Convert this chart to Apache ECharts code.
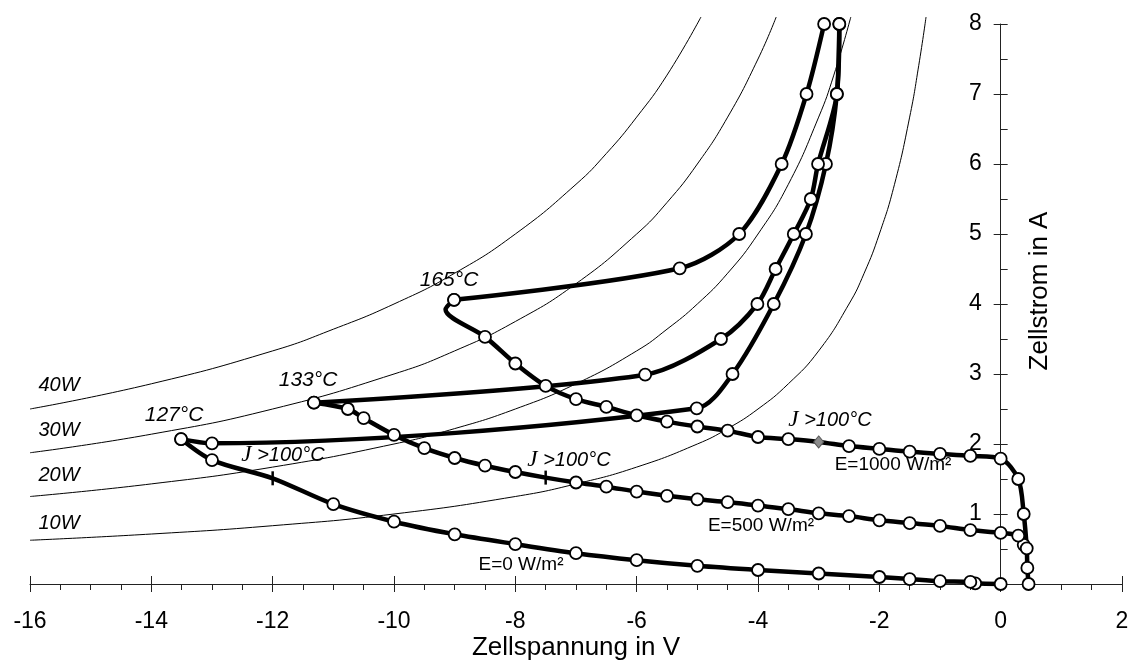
<!DOCTYPE html>
<html>
<head>
<meta charset="utf-8">
<script src="https://cdn.jsdelivr.net/npm/echarts@6/dist/echarts.min.js"></script>
<style>
html, body { margin: 0; padding: 0; background: #fff; }
#chart { width: 1132px; height: 661px; }
</style>
</head>
<body>
<div id="chart"></div>
<script>
// Kennlinien (Zellspannung V, Zellstrom A)
var e0Lower = [[0,0],[-0.42,0.01],[-0.5,0.03],[-1,0.04],[-1.5,0.07],[-2,0.1],[-3,0.15],[-4,0.2],[-5,0.26],[-6,0.34],[-7,0.44],[-8,0.57],[-9,0.71],[-10,0.89],[-11,1.14],[-12,1.51],[-13,1.77],[-13.51,2.07]];
var e0Upper = [[-13.51,2.07],[-13,2.01],[-5.01,2.51],[-4.42,3.0],[-3.74,4.0],[-3.21,5.0],[-2.88,6.0],[-2.7,7.0],[-2.66,8.0]];

var e500Lower = [[0.38,0.56],[0.29,0.69],[0,0.73],[-0.5,0.77],[-1,0.83],[-1.5,0.87],[-2,0.91],[-2.5,0.97],[-3,1.01],[-3.5,1.07],[-4,1.12],[-4.5,1.17],[-5,1.21],[-5.5,1.26],[-6,1.32],[-6.5,1.39],[-7,1.45],[-7.5,1.52],[-8,1.6],[-8.5,1.69],[-9,1.8],[-9.5,1.94],[-10,2.13],[-10.5,2.37],[-10.76,2.5],[-11.32,2.59]];
var e500Upper = [[-11.32,2.59],[-5.86,2.99],[-4.61,3.5],[-4.01,4.0],[-3.71,4.5],[-3.41,5.0],[-3.13,5.5],[-3.01,6.0],[-2.7,7.0],[-2.66,8.0]];

var e1000Lower = [[0.46,0],[0.44,0.23],[0.43,0.51],[0.38,1.0],[0.29,1.5],[0,1.79],[-0.5,1.83],[-1,1.86],[-1.5,1.89],[-2,1.93],[-2.5,1.97],[-3,2.03],[-3.5,2.07],[-4,2.1],[-4.5,2.19],[-5,2.25],[-5.5,2.32],[-6,2.41],[-6.5,2.53],[-7,2.64],[-7.5,2.83],[-8,3.15],[-8.5,3.53],[-9.15,3.92],[-9.01,4.06]];
var e1000Upper = [[-9.01,4.06],[-5.29,4.51],[-4.31,5.0],[-3.61,6.0],[-3.2,7.0],[-2.91,8.0]];

// J > 100°C Punkte und Knick ohne Marker
var jTickE0 = [-12,1.51];
var jTickE500 = [-7.5,1.52];
var jDiamondE1000 = [-3,2.03];
var bendE1000 = [-9.15,3.92];

// Verlustleistung 10/20/30/40 W
var p10 = [[-16,0.625],[-14,0.714],[-12,0.833],[-10,1.0],[-8,1.25],[-7,1.43],[-6,1.67],[-5,2.0],[-4.5,2.22],[-4,2.5],[-3.5,2.86],[-3,3.33],[-2.5,4.0],[-2.25,4.44],[-2,5.0],[-1.75,5.71],[-1.5,6.67],[-1.35,7.41],[-1.23,8.1]];
var p20 = [[-16,1.25],[-14,1.43],[-12,1.67],[-10,2.0],[-9,2.22],[-8,2.5],[-7,2.86],[-6,3.33],[-5.5,3.64],[-5,4.0],[-4.5,4.44],[-4,5.0],[-3.5,5.71],[-3,6.67],[-2.75,7.27],[-2.47,8.1]];
var p30 = [[-16,1.875],[-14,2.14],[-12,2.5],[-10,3.0],[-9,3.33],[-8,3.75],[-7,4.29],[-6,5.0],[-5.5,5.45],[-5,6.0],[-4.5,6.67],[-4,7.5],[-3.7,8.1]];
var p40 = [[-16,2.5],[-14,2.86],[-12,3.33],[-11,3.64],[-10,4.0],[-9,4.44],[-8,5.0],[-7,5.71],[-6.5,6.15],[-6,6.67],[-5.5,7.27],[-4.94,8.1]];

var font = '"Liberation Sans", Arial, sans-serif';
var axisColor = '#222';

function same(a, b) { return a[0] === b[0] && a[1] === b[1]; }

var curves = [e0Lower, e0Upper, e500Lower, e500Upper, e1000Lower, e1000Upper];
var special = [jTickE0, jTickE500, jDiamondE1000, bendE1000];
var circles = [];
curves.forEach(function (c) {
	c.forEach(function (p) {
		if (!special.some(function (s) { return same(s, p); })) circles.push(p);
	});
});

var series = [];
[p10, p20, p30, p40].forEach(function (d) {
	series.push({
		type: 'line', data: d, smooth: 0.5, showSymbol: false, clip: false, z: 1,
		lineStyle: { color: '#000', width: 1 }
	});
});
curves.forEach(function (d) {
	series.push({
		type: 'line', data: d, smooth: 0.3, showSymbol: false, clip: false, z: 2,
		lineStyle: { color: '#000', width: 4.5 }
	});
});
series.push({
	type: 'scatter', data: circles, symbol: 'circle', symbolSize: 12, clip: false, z: 3,
	itemStyle: { color: '#fff', borderColor: '#000', borderWidth: 1.8, opacity: 1 }
});
series.push({
	type: 'scatter', data: [jTickE0, jTickE500], symbol: 'rect', symbolSize: [2.5, 14], clip: false, z: 3,
	itemStyle: { color: '#000', opacity: 1 }
});
series.push({
	type: 'scatter', data: [jDiamondE1000], symbol: 'diamond', symbolSize: [10, 12], clip: false, z: 3,
	itemStyle: { color: '#8c8c8c', borderColor: '#555', borderWidth: 1, opacity: 1 }
});

function txt(x, y, text, size, italic) {
	return {
		type: 'text', x: x, y: y, z: 10,
		style: {
			text: text, fontSize: size, fontFamily: font, fontStyle: italic ? 'italic' : 'normal',
			fill: '#000', align: 'center', verticalAlign: 'middle'
		}
	};
}
function jText(x, y) {
	return {
		type: 'text', x: x, y: y, z: 10,
		style: {
			text: '{j|J} >100°C', fontSize: 20, fontFamily: font, fontStyle: 'italic',
			fill: '#000', align: 'center', verticalAlign: 'middle',
			rich: { j: { fontFamily: '"Liberation Serif", serif', fontStyle: 'italic', fontSize: 23 } }
		}
	};
}

// grid 0: Daten und x-Achse; grid 1: endet bei U = 0, trägt die y-Achse
var gridLeft = 30, gridRight = 10, plotW = 1132 - gridLeft - gridRight;
var yAxisRight = 1132 - (gridLeft + plotW * 16 / 18);

var myChart = echarts.init(document.getElementById('chart'));
var option = {
	animation: false,
	grid: [
		{ left: gridLeft, right: gridRight, top: 24, bottom: 77, outerBoundsMode: 'none' },
		{ left: gridLeft, right: yAxisRight, top: 24, bottom: 77, outerBoundsMode: 'none' }
	],
	xAxis: [{
		gridIndex: 0, type: 'value', min: -16, max: 2, interval: 2, position: 'bottom',
		axisLine: { onZero: false, lineStyle: { color: axisColor, width: 1 } },
		axisTick: { length: 8, lineStyle: { color: axisColor } },
		minorTick: { show: true, splitNumber: 4, length: 6, lineStyle: { color: axisColor } },
		splitLine: { show: false },
		axisLabel: { fontSize: 23, color: '#000', fontFamily: font, margin: 26 },
		name: 'Zellspannung in V', nameLocation: 'middle', nameGap: 51, nameMoveOverlap: false,
		nameTextStyle: { fontSize: 26, color: '#000', fontFamily: font }
	}, {
		gridIndex: 0, type: 'value', min: -16, max: 2, interval: 2, position: 'bottom',
		axisLine: { show: false, onZero: false },
		axisTick: { inside: true, length: 8, lineStyle: { color: axisColor } },
		axisLabel: { show: false }, splitLine: { show: false }
	}, {
		gridIndex: 1, type: 'value', min: -16, max: 0, show: false
	}],
	yAxis: [{
		gridIndex: 0, type: 'value', min: 0, max: 8, show: false
	}, {
		gridIndex: 1, type: 'value', min: 0, max: 8, interval: 1, position: 'right',
		axisLine: { onZero: false, lineStyle: { color: axisColor, width: 1 } },
		axisTick: { length: 7, lineStyle: { color: axisColor } },
		minorTick: { show: true, splitNumber: 2, length: 7, lineStyle: { color: axisColor } },
		splitLine: { show: false },
		axisLabel: {
			inside: true, fontSize: 23, color: '#000', fontFamily: font, margin: 19,
			formatter: function (v) { return v === 0 ? '' : v; }
		},
		name: 'Zellstrom in A', nameLocation: 'middle', nameGap: 26, nameMoveOverlap: false,
		nameTextStyle: { fontSize: 26, color: '#000', fontFamily: font, padding: [0, 0, 0, 26] }
	}, {
		gridIndex: 1, type: 'value', min: 0, max: 8, interval: 1, position: 'right',
		axisLine: { show: false, onZero: false },
		axisTick: { inside: true, length: 7, lineStyle: { color: axisColor } },
		axisLabel: { show: false }, splitLine: { show: false }
	}],
	graphic: [
		txt(59, 385, '40W', 20, true),
		txt(59, 430, '30W', 20, true),
		txt(59, 475, '20W', 20, true),
		txt(59, 523, '10W', 20, true),
		txt(174, 415, '127°C', 21, true),
		txt(308, 380, '133°C', 21, true),
		txt(449, 280, '165°C', 21, true),
		jText(283, 455),
		jText(569, 460),
		jText(830, 420),
		txt(893, 465, 'E=1000 W/m²', 19, false),
		txt(761, 526, 'E=500 W/m²', 19, false),
		txt(521, 565, 'E=0 W/m²', 19, false)
	],
	series: series
};
myChart.setOption(option);
</script>
</body>
</html>
